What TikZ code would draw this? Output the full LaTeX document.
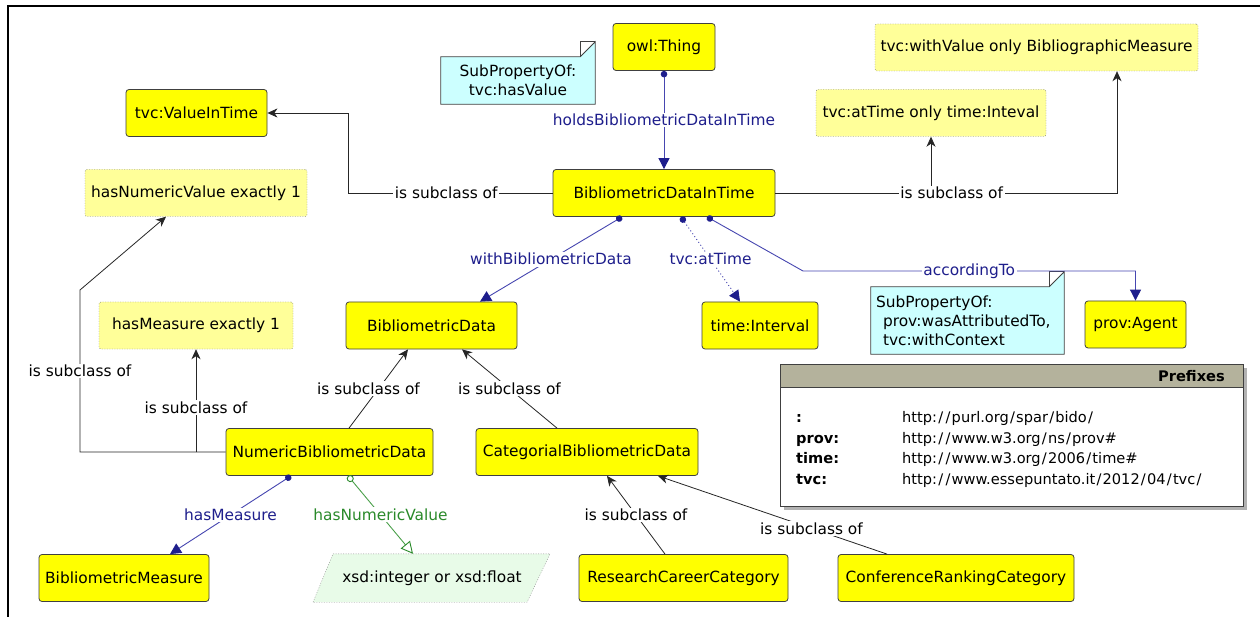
\documentclass[tikz,border=0pt]{standalone}
\usepackage{fontspec}
\setmainfont{DejaVu Sans}
\usetikzlibrary{arrows.meta,backgrounds,calc}
\definecolor{clsyel}{HTML}{FFFF00}
\definecolor{resyel}{HTML}{FFFF99}
\definecolor{notecy}{HTML}{CCFFFF}
\definecolor{navy}{HTML}{1E1E8C}
\definecolor{navyln}{HTML}{4646B0}
\definecolor{grn}{HTML}{2A8A2A}
\definecolor{grnln}{HTML}{4AA04A}
\definecolor{xsdgrn}{HTML}{E8FBE8}
\definecolor{hdr}{HTML}{B4B29C}
\newcommand{\sls}{\kern1.2pt/\kern1.2pt}
\begin{document}
\begin{tikzpicture}[x=1pt,y=-1pt,
 every node/.style={font=\fontsize{15.4}{19}\selectfont},
 cls/.style={draw=black!75, fill=clsyel, rounded corners=3pt, minimum height=47pt, inner sep=0pt, line width=0.8pt},
 res/.style={draw=black!55, dash pattern=on 1pt off 1.5pt, fill=resyel, rounded corners=2pt, minimum height=47pt, inner sep=0pt},
 notebox/.style={inner sep=0pt, minimum height=47pt},
 notepath/.style={draw=black!75, fill=notecy, line width=0.8pt},
 lbl/.style={fill=white, inner sep=1.5pt},
 plbl/.style={lbl, text=navy},
 glbl/.style={lbl, text=grn},
 sub/.style={draw=black!85, line width=0.8pt, -{Stealth[length=10pt,width=9pt,inset=3pt]}},
 prop/.style={draw=navyln, line width=0.9pt, {Circle[length=6.5pt,color=navy]}-{Triangle[length=11pt,width=11pt,color=navy]}},
 dprop/.style={prop, dash pattern=on 1pt off 2.5pt},
 dtprop/.style={draw=grnln, line width=0.9pt, {Circle[open,length=7pt,fill=white,color=grn]}-{Triangle[open,length=12pt,width=12pt,fill=white,color=grn]}},
 pfx/.style={font=\fontsize{14.6}{18}\selectfont, anchor=base west, inner sep=0pt},
 pfxb/.style={pfx, font=\fontsize{14.6}{18}\selectfont\bfseries}
]
\useasboundingbox (0,0) rectangle (1260,617);
% frame
\draw[line width=2pt] (8,617) -- (8,6) -- (1260,6);

% nodes
\node[cls, minimum width=102pt] (owl) at (664,47) {owl:Thing};
\node[notebox, minimum width=154pt, align=center] (note1) at (518,80.5) {SubPropertyOf:\\tvc:hasValue};
\node[cls, minimum width=222pt] (bdit) at (664,193) {BibliometricDataInTime};
\node[cls, minimum width=141pt] (vit) at (196.5,113) {tvc:ValueInTime};
\node[res, minimum width=222pt] (hn1) at (196,193) {hasNumericValue exactly 1};
\node[res, minimum width=323pt] (wv) at (1036.5,47.5) {tvc:withValue only BibliographicMeasure};
\node[res, minimum width=230pt] (at) at (931,113) {tvc:atTime only time:Inteval};
\node[cls, minimum width=171pt] (bd) at (431.5,325.5) {BibliometricData};
\node[cls, minimum width=116pt] (ti) at (760,325.5) {time:Interval};
\node[cls, minimum width=101pt] (pa) at (1135.5,324.5) {prov:Agent};
\node[notebox, minimum width=193pt, minimum height=67pt, align=left, text width=183pt] (note2) at (967.5,320.5) {SubPropertyOf:\\\hspace*{7pt}prov:wasAttributedTo,\\\hspace*{7pt}tvc:withContext};
\node[res, minimum width=194pt] (hm1) at (196,325.5) {hasMeasure exactly 1};
\node[cls, minimum width=207pt] (nbd) at (329.5,452) {NumericBibliometricData};
\node[cls, minimum width=222pt] (cbd) at (587,452) {CategorialBibliometricData};
\node[cls, minimum width=170pt] (bm) at (124,578) {BibliometricMeasure};
\node[inner sep=0pt, minimum width=226pt, minimum height=48pt] (xsd) at (432,578) {xsd:integer or xsd:float};
\node[cls, minimum width=209pt] (rcc) at (683.5,578) {ResearchCareerCategory};
\node[cls, minimum width=236pt] (crc) at (956,578) {ConferenceRankingCategory};

% backgrounds for notes and datatype
\begin{scope}[on background layer]
\fill[white] (0,0) rectangle (1260,617);
\draw[notepath] (note1.north west) -- ([xshift=-15pt]note1.north east) -- ([yshift=15pt]note1.north east) -- (note1.south east) -- (note1.south west) -- cycle;
\draw[draw=black!75, line width=0.7pt] ([xshift=-15pt]note1.north east) -- ([xshift=-15pt,yshift=15pt]note1.north east) -- ([yshift=15pt]note1.north east);
\draw[notepath] (note2.north west) -- ([xshift=-15pt]note2.north east) -- ([yshift=15pt]note2.north east) -- (note2.south east) -- (note2.south west) -- cycle;
\draw[draw=black!75, line width=0.7pt] ([xshift=-15pt]note2.north east) -- ([xshift=-15pt,yshift=15pt]note2.north east) -- ([yshift=15pt]note2.north east);
\draw[draw=black!45, dash pattern=on 1pt off 1.5pt, fill=xsdgrn] ([xshift=-119pt]xsd.south) -- ([xshift=-99pt]xsd.north) -- ([xshift=118pt]xsd.north) -- ([xshift=95pt]xsd.south) -- cycle;
\end{scope}

% prefixes box
\fill[black!30] (784,368) rectangle (1247,510);
\node[draw=black!75, fill=white, line width=0.8pt, anchor=north west, minimum width=463pt, minimum height=142pt, inner sep=0pt] (pbox) at (780,364) {};
\node[draw=black!75, fill=hdr, line width=0.8pt, anchor=north west, minimum width=463pt, minimum height=23pt, inner sep=0pt] (phdr) at (780,364) {};
\node[anchor=east, inner sep=0pt, font=\fontsize{14.6}{18}\selectfont\bfseries] (ptitle) at (1225,376) {Prefixes};
\node[pfxb] (k1) at (796,422) {:};
\node[pfxb] (k2) at (796,443) {prov:};
\node[pfxb] (k3) at (796,463) {time:};
\node[pfxb] (k4) at (796,484) {tvc:};
\node[pfx] (v1) at (902,422) {http:\sls\sls purl.org\sls spar\sls bido\sls};
\node[pfx] (v2) at (902,443) {http:\sls\sls www.w3.org\sls ns\sls prov\#};
\node[pfx] (v3) at (902,463) {http:\sls\sls www.w3.org\sls 2006\sls time\#};
\node[pfx] (v4) at (902,484) {http:\sls\sls www.essepuntato.it\sls 2012\sls 04\sls tvc\sls};

% subclass edges
\coordinate (vb1) at (348,193);
\coordinate (vb2) at (348,113);
\draw[sub] (bdit.west) -- node[lbl, pos=0.52]{is subclass of} (vb1) -- (vb2) -- (vit.east);

\coordinate (ab) at (931,193);
\coordinate (wb1) at (1117,193);
\draw[sub] (ab) -- (at.south);
\draw[sub] (bdit.east) -- node[lbl, pos=0.516]{is subclass of} (wb1) -- ([xshift=80.5pt]wv.south);

\coordinate (nb1) at (80,452);
\coordinate (nb2) at (80,290);
\coordinate (mb) at (196,452);
\draw[sub] (mb) -- node[lbl, pos=0.43]{is subclass of} (hm1.south);
\draw[sub] (nbd.west) -- (nb1) -- node[lbl]{is subclass of} (nb2) -- ([xshift=-30pt]hn1.south);

\draw[sub] ([xshift=19.5pt]nbd.north) -- node[lbl, xshift=-10pt]{is subclass of} ([xshift=-23.5pt]bd.south);
\draw[sub] ([xshift=-30pt]cbd.north) -- node[lbl]{is subclass of} ([xshift=30.5pt]bd.south);
\draw[sub] ([xshift=-18.5pt]rcc.north) -- node[lbl]{is subclass of} ([xshift=20pt]cbd.south);
\draw[sub] ([xshift=-69pt]crc.north) -- node[lbl, pos=0.33]{is subclass of} ([xshift=71pt]cbd.south);

% property edges
\draw[prop] (owl.south) -- node[plbl]{holdsBibliometricDataInTime} (bdit.north);
\draw[prop] ([xshift=-42pt]bdit.south) -- node[plbl]{withBibliometricData} ([xshift=48.5pt]bd.north);
\draw[dprop] ([xshift=17pt]bdit.south) -- node[plbl]{tvc:atTime} ([xshift=-20pt]ti.north);
\coordinate (acc1) at (803,271);
\coordinate (acc2) at (1135.5,271);
\draw[prop] ([xshift=43pt]bdit.south) -- (acc1) -- node[plbl]{accordingTo} (acc2) -- (pa.north);
\draw[prop] ([xshift=-38.5pt]nbd.south) -- node[plbl]{hasMeasure} ([xshift=46pt]bm.north);
\draw[dtprop] ([xshift=18.5pt]nbd.south) -- node[glbl]{hasNumericValue} ([xshift=-19pt]xsd.north);
\end{tikzpicture}
\end{document}
